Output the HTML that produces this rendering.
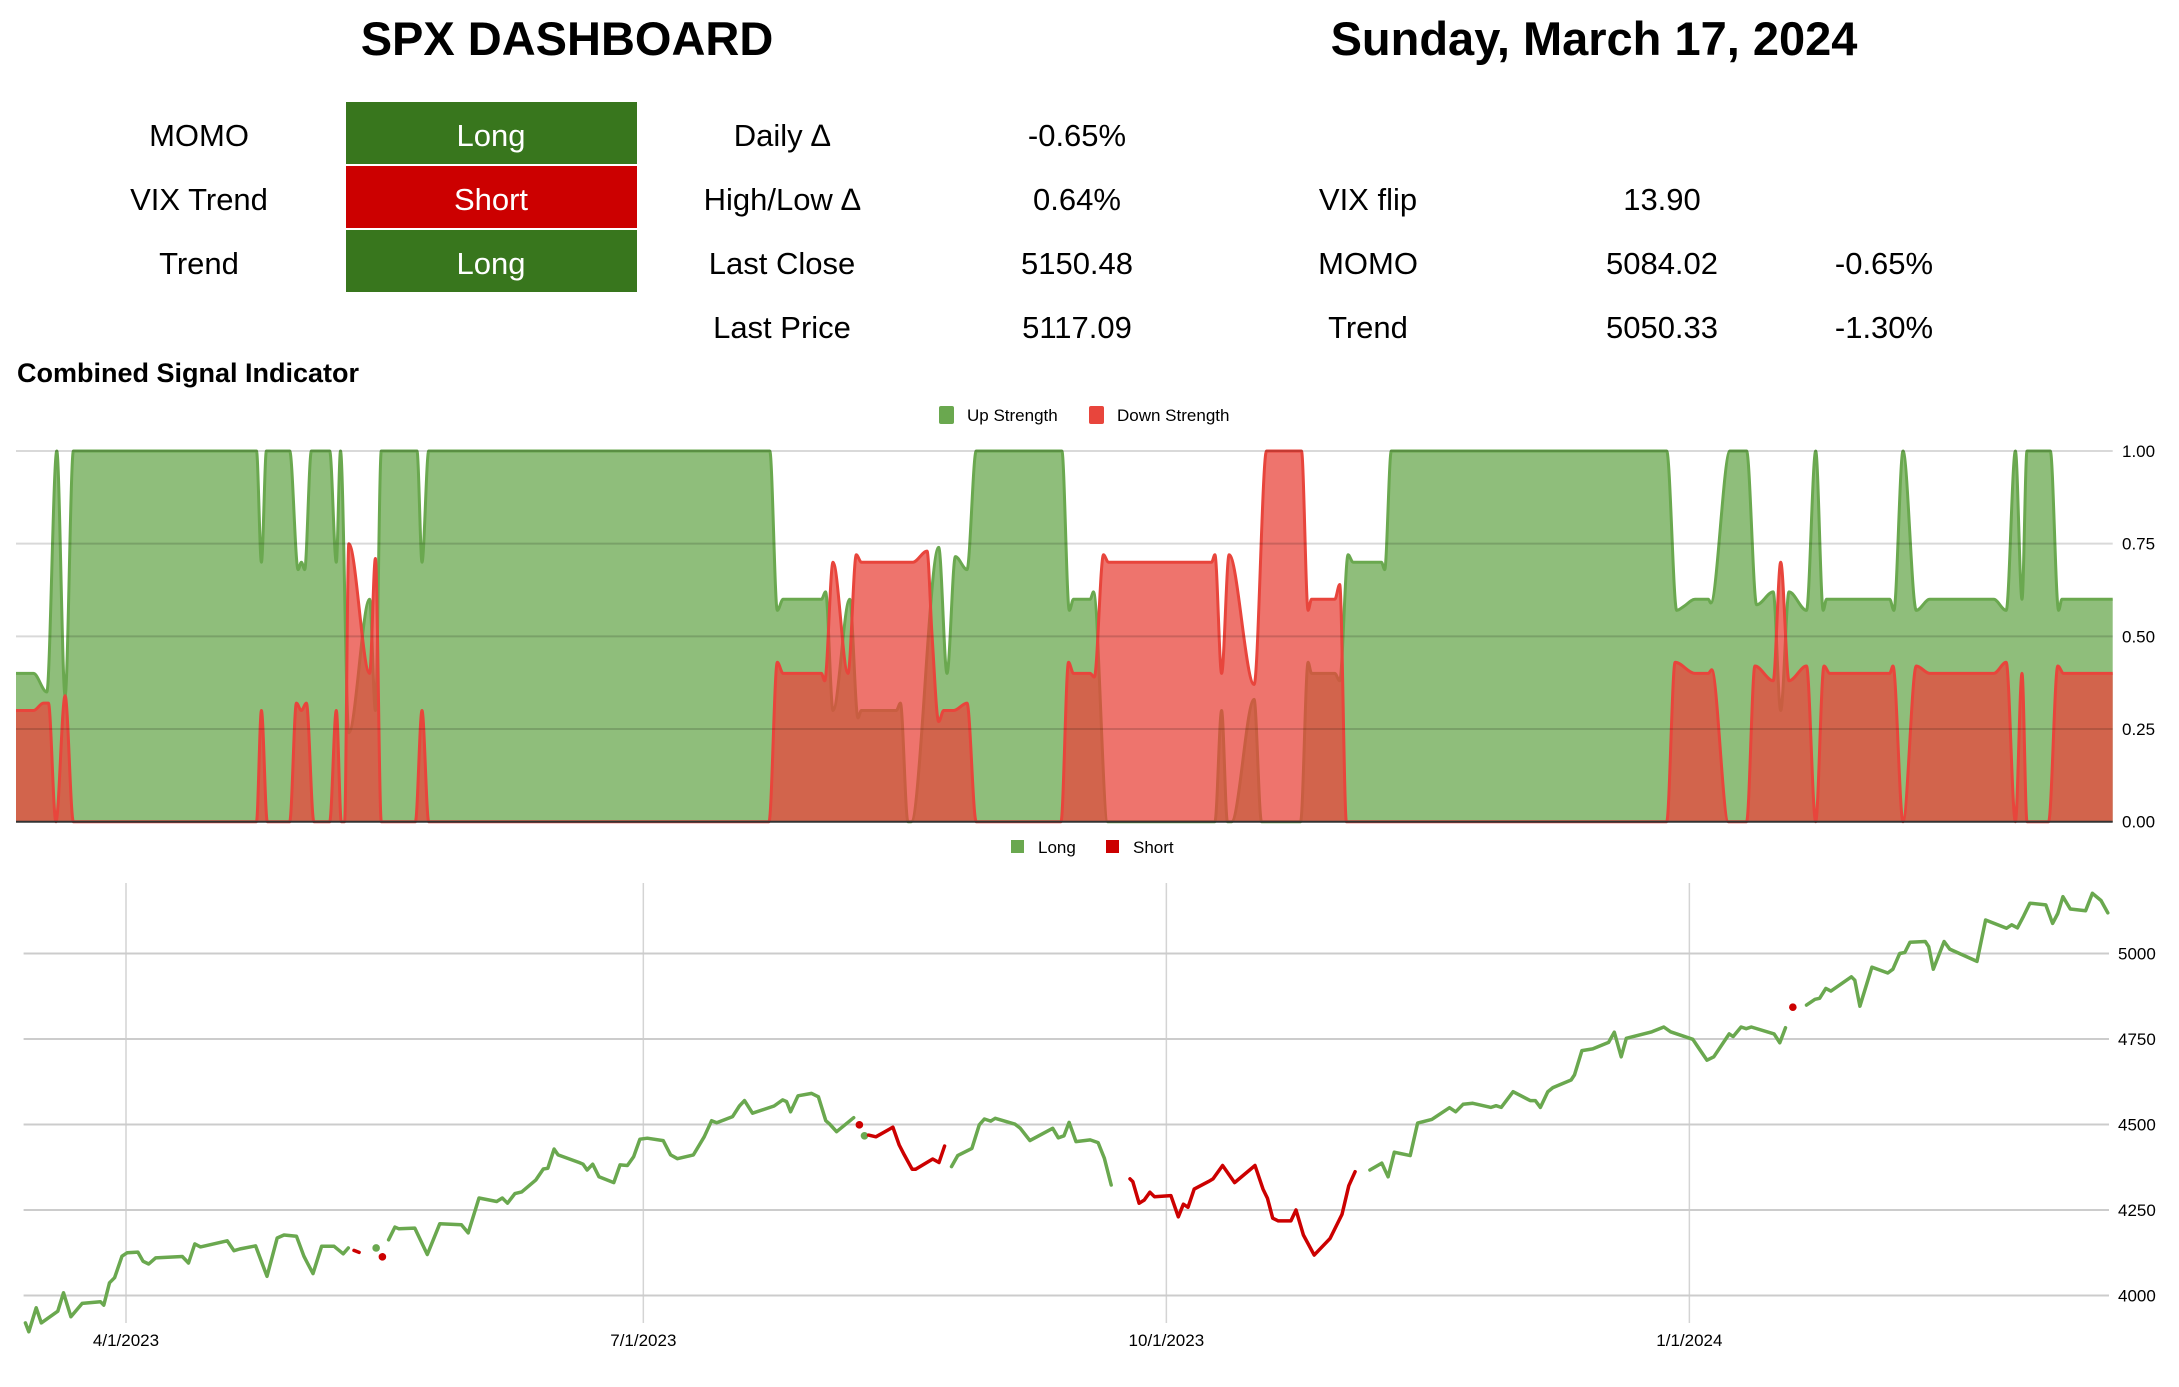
<!DOCTYPE html>
<html><head><meta charset="utf-8"><style>
html,body{margin:0;padding:0;background:#fff}
svg{display:block}
text{font-family:"Liberation Sans",Arial,sans-serif}
</style></head><body>
<svg id="root" width="2179" height="1387" viewBox="0 0 2179 1387" xmlns="http://www.w3.org/2000/svg">
<g>
<text x="567" y="55" font-size="47" font-weight="bold" text-anchor="middle">SPX DASHBOARD</text>
<text x="1594" y="55" font-size="47" font-weight="bold" text-anchor="middle">Sunday, March 17, 2024</text>
</g>
<g font-size="31" text-anchor="middle">
<rect x="346" y="102" width="291" height="62" fill="#38761d"/>
<rect x="346" y="166" width="291" height="62" fill="#cc0000"/>
<rect x="346" y="230" width="291" height="62" fill="#38761d"/>
<text x="199" y="146">MOMO</text>
<text x="199" y="210">VIX Trend</text>
<text x="199" y="274">Trend</text>
<text x="491" y="146" fill="#fff">Long</text>
<text x="491" y="210" fill="#fff">Short</text>
<text x="491" y="274" fill="#fff">Long</text>
<text x="782" y="146">Daily ∆</text>
<text x="782" y="210">High/Low ∆</text>
<text x="782" y="274">Last Close</text>
<text x="782" y="338">Last Price</text>
<text x="1077" y="146">-0.65%</text>
<text x="1077" y="210">0.64%</text>
<text x="1077" y="274">5150.48</text>
<text x="1077" y="338">5117.09</text>
<text x="1368" y="210">VIX flip</text>
<text x="1368" y="274">MOMO</text>
<text x="1368" y="338">Trend</text>
<text x="1662" y="210">13.90</text>
<text x="1662" y="274">5084.02</text>
<text x="1662" y="338">5050.33</text>
<text x="1884" y="274">-0.65%</text>
<text x="1884" y="338">-1.30%</text>
</g>
<text x="17" y="382" font-size="27" font-weight="bold">Combined Signal Indicator</text>
<g font-size="17">
<rect x="939" y="406" width="15" height="18" rx="2" fill="#6aa84f"/>
<text x="967" y="421">Up Strength</text>
<rect x="1089" y="406" width="15" height="18" rx="2" fill="#e8453c"/>
<text x="1117" y="421">Down Strength</text>
</g>
<g id="c1"></g>
<g font-size="17">
<rect x="1011" y="840" width="13" height="13" fill="#6aa84f"/>
<text x="1038" y="853">Long</text>
<rect x="1106" y="840" width="13" height="13" fill="#cc0000"/>
<text x="1133" y="853">Short</text>
</g>
<g id="c2"></g>
</svg>
<script>
// ---- Chart 1 data: session index and strength values ----
const upT=[0,2.1,3.7,4.9,5.9,6.9,28.9,29.5,30.1,32.9,33.9,34.3,34.7,35.5,37.7,38.5,39.0,40.0,42.5,43.2,43.9,48.2,48.8,49.6,90.6,91.5,92.2,96.8,97.3,98.2,100.2,101.2,101.6,105.8,106.3,107.2,107.6,110.9,111.9,112.9,114.3,115.4,125.7,126.6,127.1,129.1,129.5,131.2,144.1,144.9,145.6,146.1,148.8,149.7,154.4,155.3,155.7,158.5,159.1,160.1,160.7,164.1,164.5,165.3,198.4,199.6,200.4,201.8,203.4,203.7,206.0,208.0,209.2,211.2,212.1,213.1,215.2,216.3,217.2,217.6,225.2,225.7,226.8,228.4,230.0,237.7,239.2,240.3,241.1,241.7,244.5,245.5,245.9,252];
const upV=[.4,.4,.35,1,.34,1,1,.7,1,1,.68,.7,.68,1,1,.7,1,.24,.6,.3,1,1,.7,1,1,.57,.6,.6,.62,.3,.6,.28,.3,.3,.32,0,0,.74,.4,.715,.68,1,1,.57,.6,.6,.62,0,0,.3,0,0,.33,0,0,.43,.4,.4,.38,.72,.7,.7,.68,1,1,.57,.58,.6,.6,.59,1,1,.585,.62,.3,.62,.57,1,.57,.6,.6,.57,1,.57,.6,.6,.57,1,.6,1,1,.57,.6,.6];
const downT=[0,2.1,3.3,3.9,4.8,5.9,6.9,28.9,29.5,30.2,32.9,33.7,34.3,34.9,35.8,37.7,38.5,39.1,39.5,40.0,42.5,43.2,43.9,48.0,48.8,49.6,90.5,91.5,92.2,96.8,97.2,98.2,100.0,101.0,101.6,107.8,109.5,110.1,110.9,111.5,112.7,114.3,115.4,125.6,126.5,127.1,129.1,129.6,130.7,131.3,143.7,144.1,144.9,145.8,148.8,150.3,154.5,155.3,155.7,158.5,159.1,159.9,198.4,199.4,201.8,203.4,203.8,205.8,208.0,209.0,211.2,212.1,213.1,215.2,216.3,217.3,218.0,225.2,225.6,226.8,228.4,230.0,237.7,239.2,240.3,241.1,241.7,244.3,245.4,246.1,252];
const downV=[.3,.3,.32,.32,0,.34,0,0,.3,0,0,.32,.3,.32,0,0,.3,0,0,.75,.4,.71,0,0,.3,0,0,.43,.4,.4,.38,.7,.4,.72,.7,.7,.73,.5,.27,.3,.3,.32,0,0,.43,.4,.4,.39,.72,.7,.7,.72,.4,.72,.37,1,1,.57,.6,.6,.64,0,0,.43,.4,.4,.41,0,0,.42,.38,.7,.38,.42,0,.42,.4,.4,.42,0,.42,.4,.4,.43,0,.4,0,0,.42,.4,.4];
const strengthTicks=["0.00","0.25","0.50","0.75","1.00"];

// ---- Chart 2 data: days since 2023-04-01, SPX price, signal ----
const days=[-17.7,-17.1,-15.8,-14.9,-12.0,-11.0,-9.7,-7.7,-4.5,-3.9,-2.9,-2.0,-0.7,0.2,2.1,3.0,4.0,5.2,9.9,11.0,12.1,13.1,17.8,19.0,20.0,22.8,24.8,26.6,27.8,30.0,31.3,31.9,32.9,34.4,36.6,38.2,39.1,
40.1,41.0,44.0,45.1,
46.2,47.3,48.0,50.8,53.0,55.2,59.0,60.2,62.1,65.2,66.2,67.1,68.4,69.6,72.1,73.4,74.2,75.3,76.0,79.7,80.4,81.1,82.1,83.2,85.8,86.9,88.2,89.3,90.4,91.7,94.5,95.8,97.0,99.8,101.7,103.0,103.9,106.7,107.9,108.8,110.2,114.0,115.5,116.2,116.9,118.2,120.6,121.8,123.1,123.8,
125.0,128.0,
129.0,129.9,130.6,131.9,134.9,136.0,136.9,138.3,138.9,141.9,
143.0,144.0,145.2,146.3,148.8,150.1,151.0,152.1,152.9,156.4,157.3,159.0,163.0,164.0,165.0,165.9,167.1,169.6,171.0,
172.1,173.3,176.6,177.1,178.2,179.1,180.1,180.9,183.8,185.1,186.0,186.8,187.9,190.4,191.2,192.9,195.0,198.6,200.0,200.8,201.7,202.7,204.9,205.8,207.1,209.0,211.8,213.9,
215.1,216.2,218.8,220.9,222.0,223.1,225.9,227.2,229.7,232.8,233.9,235.2,236.9,240.1,241.0,241.9,244.0,247.0,247.9,248.8,250.1,251.0,254.2,254.8,256.1,258.0,260.8,261.8,263.0,263.9,268.4,270.5,271.7,275.6,276.5,278.1,279.3,282.0,282.7,284.1,285.0,285.9,289.9,
290.9,
291.9,293.2,295.6,297.1,297.9,299.0,299.9,303.5,304.1,305.0,307.1,309.9,310.8,312.0,312.9,313.8,316.5,317.1,317.9,319.8,320.8,325.6,327.1,330.8,331.7,332.7,333.8,334.9,337.7,338.9,339.8,340.7,342.0,344.7,345.9,347.4,348.6];
const prices=[3920,3894,3964,3920,3954,4008,3938,3977,3982,3972,4037,4052,4115,4125,4127,4100,4092,4110,4114,4095,4151,4142,4160,4131,4136,4145,4056,4168,4177,4173,4115,4095,4064,4144,4144,4122,4139,
4132,4126,4139,4113,
4163,4200,4195,4197,4120,4210,4207,4183,4285,4275,4285,4270,4298,4303,4338,4370,4372,4428,4411,4389,4384,4367,4384,4347,4330,4382,4380,4406,4457,4460,4453,4411,4400,4411,4464,4511,4505,4523,4554,4570,4533,4554,4572,4567,4537,4584,4591,4581,4511,4501,
4479,4520,
4499,4467,4469,4464,4492,4440,4411,4369,4369,4399,
4389,4437,4377,4409,4430,4499,4516,4510,4518,4501,4489,4453,4489,4461,4467,4506,4450,4455,4447,
4401,4323,4341,4333,4270,4279,4302,4289,4292,4230,4267,4258,4311,4333,4341,4380,4330,4380,4311,4284,4226,4218,4218,4250,4177,4118,4167,4237,
4321,4362,4367,4387,4347,4419,4409,4504,4515,4549,4537,4559,4562,4550,4555,4550,4596,4570,4570,4550,4596,4608,4630,4645,4716,4721,4740,4770,4698,4752,4771,4785,4771,4749,4727,4688,4698,4765,4757,4785,4780,4785,4765,
4739,
4783,4843,4849,4866,4869,4898,4890,4932,4922,4846,4960,4943,4954,5000,5003,5033,5035,5020,4954,5035,5013,4977,5098,5074,5084,5075,5110,5147,5142,5088,5117,5166,5130,5125,5176,5155,5119];
const sigRuns=[["L",37],["S",2],["L",1],["S",1],["L",52],["S",1],["L",1],["S",10],["L",19],["S",28],["L",43],["S",1],["L",37]];
const priceTicks=[4000,4250,4500,4750,5000];
const dateTicks=["4/1/2023","7/1/2023","10/1/2023","1/1/2024"];
const dateTickDays=[0,91,183,275];

const NS="http://www.w3.org/2000/svg";
function mk(tag,attrs,parent){const e=document.createElementNS(NS,tag);for(const k in attrs)e.setAttribute(k,attrs[k]);parent.appendChild(e);return e;}

// monotone cubic path
function monoPath(pts){
  const n=pts.length;if(n<2)return "";
  const dx=[],m=[],t=[];
  for(let i=0;i<n-1;i++){dx.push(pts[i+1][0]-pts[i][0]);m.push((pts[i+1][1]-pts[i][1])/(dx[i]||1e-6));}
  t[0]=m[0];t[n-1]=m[n-2];
  for(let i=1;i<n-1;i++){ if(m[i-1]*m[i]<=0)t[i]=0; else {const w1=2*dx[i]+dx[i-1],w2=dx[i]+2*dx[i-1];t[i]=(w1+w2)/(w1/m[i-1]+w2/m[i]);} }
  let d="M"+pts[0][0].toFixed(1)+","+pts[0][1].toFixed(1);
  for(let i=0;i<n-1;i++){const h=dx[i]/3;
    d+="C"+(pts[i][0]+h).toFixed(1)+","+(pts[i][1]+t[i]*h).toFixed(1)+" "+(pts[i+1][0]-h).toFixed(1)+","+(pts[i+1][1]-t[i+1]*h).toFixed(1)+" "+pts[i+1][0].toFixed(1)+","+pts[i+1][1].toFixed(1);}
  return d;
}

// ---- Chart 1 ----
(function(){
  const g=document.getElementById('c1');
  const X0=16,X1=2112.7,Smax=252,Y0=821.7,H=370.7;
  const xS=s=>X0+s*(X1-X0)/Smax, yV=v=>Y0-v*H;
  function area(T,V,fill,stroke,name){
    const pts=T.map((t,i)=>[xS(t),yV(V[i])]);
    const line=monoPath(pts);
    const a=mk('path',{d:line+"L"+xS(T[T.length-1])+","+Y0+"L"+xS(T[0])+","+Y0+"Z",fill:fill,'fill-opacity':0.75,stroke:'none'},g);
    
    
    const l=mk('path',{d:line,fill:'none',stroke:stroke,'stroke-width':3},g);
    
    
  }
  area(upT,upV,'#6aa84f','#6aa84f','up-strength');
  area(downT,downV,'#e8453c','#e8453c','down-strength');
  strengthTicks.forEach((lab,i)=>{
    const v=parseFloat(lab),y=yV(v);
    if(v>0){const gl=mk('line',{x1:X0,x2:X1,y1:y,y2:y,stroke:'#000','stroke-opacity':0.15,'stroke-width':2},g);
      
      }
    const t=mk('text',{x:2122,y:y+6,'font-size':17},g);t.textContent=lab;
    
    
  });
  const base=mk('line',{x1:X0,x2:X1,y1:Y0,y2:Y0,stroke:'#333','stroke-width':2},g);
  
  
})();

// ---- Chart 2 ----
(function(){
  const g=document.getElementById('c2');
  const PX0=23.6,PX1=2109,PYtop=883,PYbot=1323;
  const xD=d=>126+d*5.685;
  const yP=p=>1295.5-(p-4000)*85.5/250;
  dateTicks.forEach((lab,i)=>{
    const x=xD(dateTickDays[i]);
    const l=mk('line',{x1:x,x2:x,y1:PYtop,y2:PYbot,stroke:'#d4d4d4','stroke-width':1.5},g);
    
    
    const t=mk('text',{x:x,y:1346,'font-size':17,'text-anchor':'middle'},g);t.textContent=lab;
    
    
  });
  priceTicks.forEach(p=>{
    const y=yP(p);
    const l=mk('line',{x1:PX0,x2:PX1,y1:y,y2:y,stroke:'#cccccc','stroke-width':2},g);
    
    
    const t=mk('text',{x:2118,y:y+6,'font-size':17},g);t.textContent=String(p);
    
    
  });
  let idx=0;
  sigRuns.forEach(([s,n])=>{
    const col=s==="L"?'#6aa84f':'#cc0000';
    const nm=s==="L"?'long-segment':'short-segment';
    if(n===1){
      const c=mk('circle',{cx:xD(days[idx]),cy:yP(prices[idx]),r:3.8,fill:col},g);
      
      
    } else {
      let pts=[];for(let k=idx;k<idx+n;k++)pts.push(xD(days[k]).toFixed(1)+","+yP(prices[k]).toFixed(1));
      const pl=mk('polyline',{points:pts.join(" "),fill:'none',stroke:col,'stroke-width':3.5,'stroke-linejoin':'round','stroke-linecap':'round'},g);
      
      
    }
    idx+=n;
  });
})();
</script>
</body></html>
